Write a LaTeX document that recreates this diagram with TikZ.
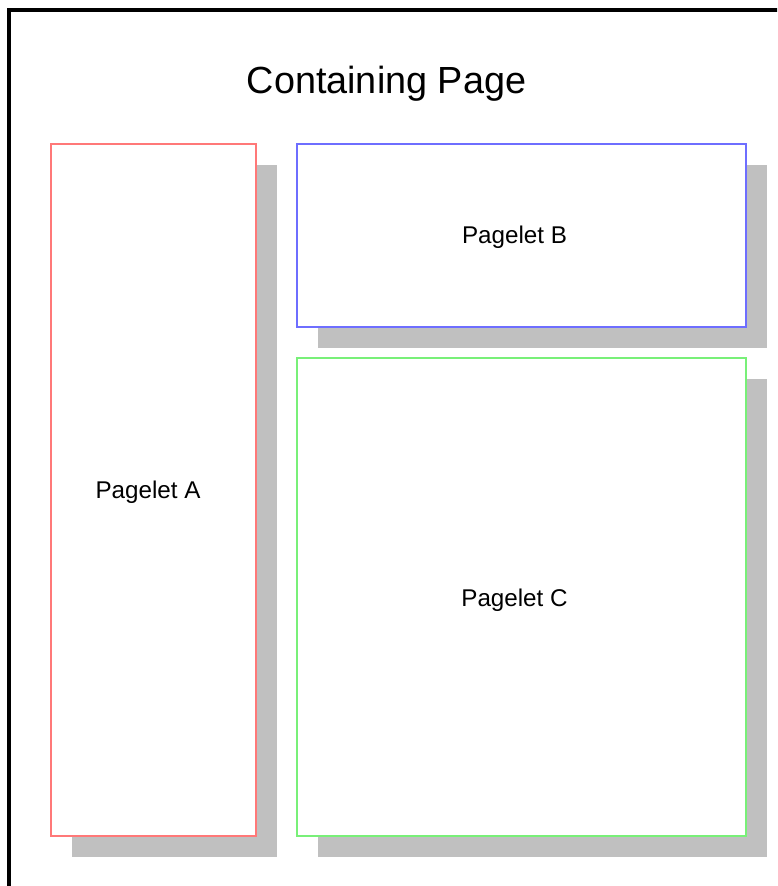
\documentclass[tikz,border=0pt]{standalone}
\usepackage{fontspec}
\setmainfont{Liberation Sans}
\usetikzlibrary{backgrounds}
\definecolor{shadowgray}{RGB}{192,192,192}
\definecolor{pageletred}{RGB}{255,120,120}
\definecolor{pageletblue}{RGB}{110,110,255}
\definecolor{pageletgreen}{RGB}{120,240,120}
\begin{document}
\begin{tikzpicture}[x=1pt,y=-1pt,
  pagelet/.style={draw, line width=1.3pt, fill=white, inner sep=0pt, outer sep=0pt},
  pagelettext/.style={font=\fontsize{24.2}{28}\selectfont, anchor=base, inner sep=0pt},
  titletext/.style={font=\fontsize{37.8}{44}\selectfont, anchor=base, inner sep=0pt},
  dropshadow/.style={fill=shadowgray, draw=none}]
  \useasboundingbox (0,0) rectangle (777,886);
  \clip (0,0) rectangle (777,886);

  % outer page frame (runs past the right and bottom edges)
  \draw[line width=4pt] (9,10) rectangle (820,930);

  \node[titletext] (title) at (386.5,93) {Containing Page};

  % pagelets
  \node[pagelet, draw=pageletred, minimum width=205pt, minimum height=692pt] (A) at (153.5,490) {};
  \node[pagelet, draw=pageletblue, minimum width=449pt, minimum height=183pt] (B) at (521.5,235.5) {};
  \node[pagelet, draw=pageletgreen, minimum width=449pt, minimum height=478pt] (C) at (521.5,597) {};

  % drop shadows behind the pagelets
  \begin{scope}[on background layer]
    \foreach \p in {A,B,C}
      \fill[dropshadow] ([shift={(20.5,21)}]\p.north west) rectangle ([shift={(20.5,21)}]\p.south east);
  \end{scope}

  \node[pagelettext] (Atext) at ([shift={(-5.5,8)}]A.center) {Pagelet A};
  \node[pagelettext] (Btext) at ([shift={(-7,7.5)}]B.center) {Pagelet B};
  \node[pagelettext] (Ctext) at ([shift={(-7,9)}]C.center) {Pagelet C};
\end{tikzpicture}
\end{document}
